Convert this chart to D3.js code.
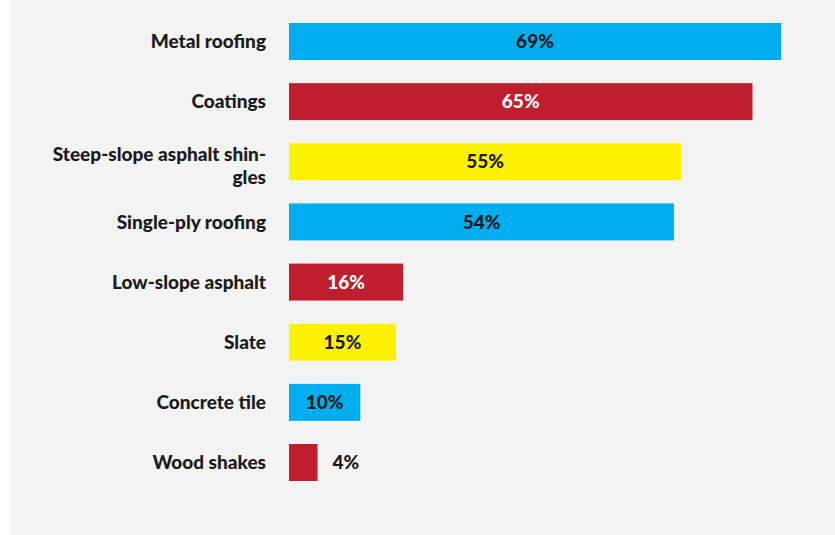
<!DOCTYPE html>
<html>
<head>
<meta charset="utf-8">
<script src="https://cdn.jsdelivr.net/npm/d3@7"></script>
<style>
  html, body { margin: 0; padding: 0; background: #ffffff; }
  svg { display: block; }
</style>
</head>
<body>
<svg id="chart" width="835" height="535"></svg>
<script>
// ---- data ----
const categories = [
  "Metal roofing",
  "Coatings",
  "Steep-slope asphalt shingles",
  "Single-ply roofing",
  "Low-slope asphalt",
  "Slate",
  "Concrete tile",
  "Wood shakes"
];
const values = [69, 65, 55, 54, 16, 15, 10, 4];
const barColors = ["#00aeef", "#be1e2d", "#fff200", "#00aeef", "#be1e2d", "#fff200", "#00aeef", "#be1e2d"];
const labelLines = {
  "Steep-slope asphalt shingles": ["Steep-slope asphalt shin-", "gles"]
};

// ---- layout ----
const W = 835, H = 535;
const svg = d3.select("#chart");
const font = "Lato, 'Open Sans', 'DejaVu Sans', sans-serif";

svg.append("rect").attr("x", 10).attr("y", 0).attr("width", W - 10).attr("height", H).attr("fill", "#f3f3f3");

const x = d3.scaleLinear().domain([0, d3.max(values)]).range([289, 781]);
const y = d3.scaleBand().domain(categories).range([23, 481]).paddingInner(0.385).paddingOuter(0);

const data = categories.map((c, i) => ({ c, v: values[i], color: barColors[i] }));

const rows = svg.append("g").selectAll("g").data(data).join("g");

rows.append("rect")
  .attr("x", x(0))
  .attr("y", d => y(d.c))
  .attr("width", d => x(d.v) - x(0))
  .attr("height", y.bandwidth())
  .attr("fill", d => d.color);

// category labels
rows.each(function(d) {
  const lines = labelLines[d.c] || [d.c];
  const lh = 23;
  const cy = y(d.c) + y.bandwidth() / 2 + (lines.length > 1 ? 4 : 0);
  const t = d3.select(this).append("text")
    .attr("text-anchor", "end")
    .attr("font-family", font)
    .attr("font-weight", 900)
    .attr("font-size", 19)
    .attr("fill", "#1a1a1a");
  lines.forEach((ln, i) => {
    t.append("tspan")
      .attr("x", 266)
      .attr("y", cy + (i - (lines.length - 1) / 2) * lh)
      .attr("dy", "0.35em")
      .text(ln);
  });
});

// value labels
rows.append("text")
  .attr("font-family", font)
  .attr("font-weight", 900)
  .attr("font-size", 19)
  .attr("dy", "0.35em")
  .attr("y", d => y(d.c) + y.bandwidth() / 2)
  .text(d => d.v + "%")
  .each(function(d) {
    const w = this.getComputedTextLength();
    const bw = x(d.v) - x(0);
    const sel = d3.select(this);
    if (bw > w + 16) {
      sel.attr("x", x(0) + bw / 2).attr("text-anchor", "middle")
        .attr("fill", d.color === "#be1e2d" ? "#ffffff" : "#1a1a1a");
    } else {
      sel.attr("x", x(d.v) + 15).attr("text-anchor", "start").attr("fill", "#1a1a1a");
    }
  });
</script>
</body>
</html>
